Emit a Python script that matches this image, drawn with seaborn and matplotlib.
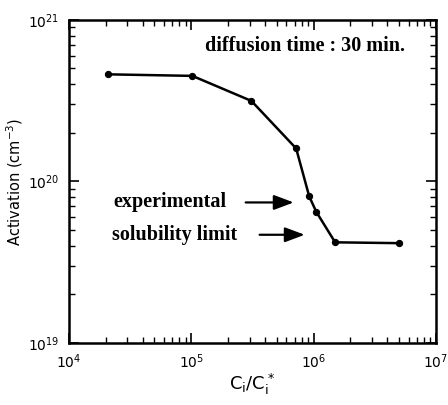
import numpy as np
import pandas as pd
import seaborn as sns
import matplotlib.pyplot as plt
from matplotlib.ticker import LogLocator, NullFormatter

# -----------------------------
# data
# -----------------------------
ratio = [2.1e4, 1.02e5, 3.1e5, 7.2e5, 9.2e5, 1.05e6, 1.5e6, 5.0e6]
activation = [4.6e20, 4.5e20, 3.15e20, 1.6e20, 8.1e19, 6.5e19, 4.2e19, 4.15e19]

df = pd.DataFrame({'ratio': ratio, 'activation': activation})

sns.set_style("ticks")
plt.rcParams['font.family'] = ['DejaVu Sans']
plt.rcParams['text.color'] = 'black'
plt.rcParams['axes.labelcolor'] = 'black'

fig = plt.figure(figsize=(4.48, 4.05), dpi=100)
ax = fig.add_axes([0.154, 0.153, 0.819, 0.798])

sns.lineplot(data=df, x='ratio', y='activation', ax=ax, color='black',
             linewidth=1.8, marker='o', markersize=4.5, markeredgecolor='black')

ax.set_xscale('log')
ax.set_yscale('log')
ax.set_xlim(1e4, 1e7)
ax.set_ylim(1e19, 1e21)

ax.xaxis.set_major_locator(LogLocator(base=10, numticks=10))
ax.xaxis.set_minor_locator(LogLocator(base=10, subs=np.arange(2, 10), numticks=20))
ax.yaxis.set_minor_locator(LogLocator(base=10, subs=np.arange(2, 10), numticks=20))
ax.xaxis.set_minor_formatter(NullFormatter())
ax.yaxis.set_minor_formatter(NullFormatter())

ax.tick_params(which='both', direction='in', top=True, right=True, colors='black')
ax.tick_params(which='major', length=7, width=1.2, labelsize=10, pad=7)
ax.tick_params(which='minor', length=4, width=1)
for s in ax.spines.values():
    s.set_linewidth(1.8)
    s.set_color('black')

ax.set_xlabel(r'C$_\mathregular{i}$/C$_\mathregular{i}^*$', fontsize=13, labelpad=0)
ax.set_ylabel(r'Activation (cm$^{-3}$)', fontsize=10.5, labelpad=2)

serif = dict(family='Liberation Serif', fontweight='bold', fontsize=14.5, color='black')
ax.text(0.916, 0.92, 'diffusion time : 30 min.', transform=ax.transAxes,
        ha='right', va='center', **serif)
ax.text(0.12, 0.435, 'experimental', transform=ax.transAxes, ha='left', va='center', **serif)
ax.text(0.117, 0.335, 'solubility limit', transform=ax.transAxes, ha='left', va='center', **serif)

arrow = dict(arrowstyle='-|>,head_length=1.2,head_width=0.45', color='black', lw=1.6)
ax.annotate('', xy=(0.62, 0.435), xytext=(0.474, 0.435), xycoords='axes fraction',
            arrowprops=arrow)
ax.annotate('', xy=(0.65, 0.335), xytext=(0.512, 0.335), xycoords='axes fraction',
            arrowprops=arrow)

fig.savefig('out.png', dpi=100)
